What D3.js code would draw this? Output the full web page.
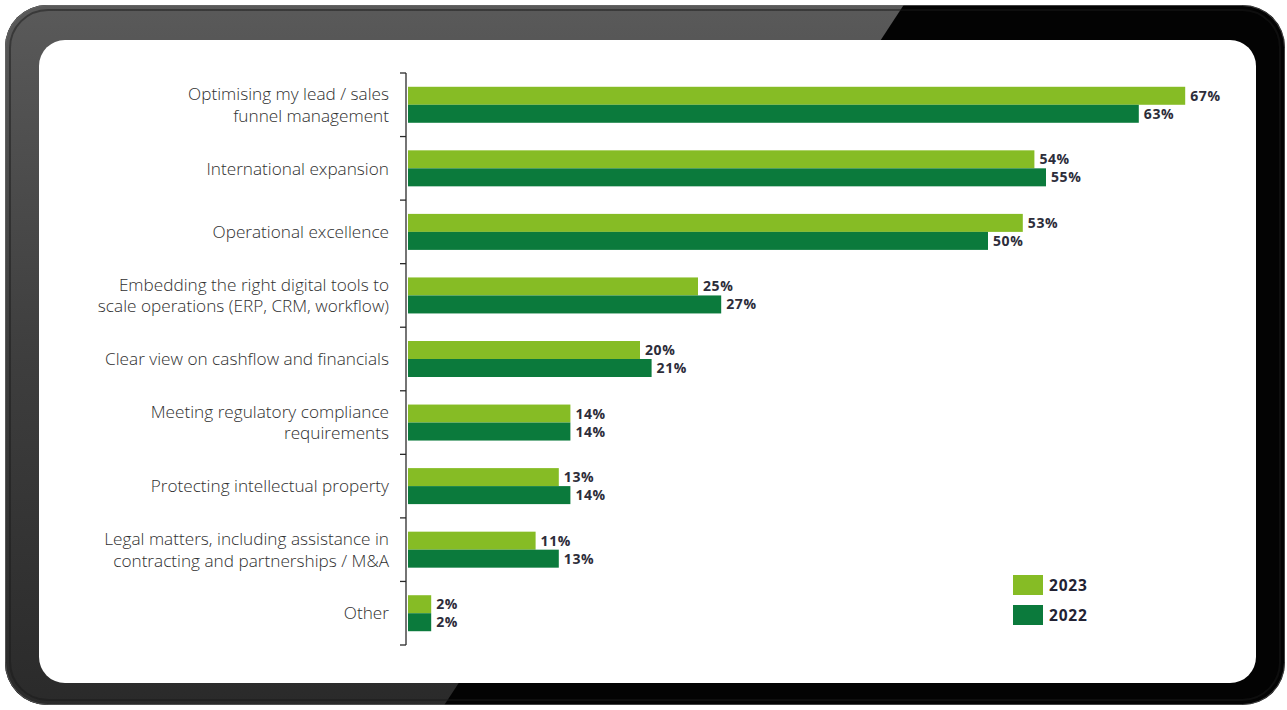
<!DOCTYPE html>
<html>
<head>
<meta charset="utf-8">
<script src="https://cdn.jsdelivr.net/npm/d3@7"></script>
<style>
  html, body { margin: 0; padding: 0; background: #ffffff; }
  svg { display: block; }
</style>
</head>
<body>
<svg id="chart" width="1287" height="710"></svg>
<script>
// Categories (label lines) and survey shares per year
const categories = [
  ["Optimising my lead / sales", "funnel management"],
  ["International expansion"],
  ["Operational excellence"],
  ["Embedding the right digital tools to", "scale operations (ERP, CRM, workflow)"],
  ["Clear view on cashflow and financials"],
  ["Meeting regulatory compliance", "requirements"],
  ["Protecting intellectual property"],
  ["Legal matters, including assistance in", "contracting and partnerships / M&A"],
  ["Other"]
];
const values2023 = [67, 54, 53, 25, 20, 14, 13, 11, 2];
const values2022 = [63, 55, 50, 27, 21, 14, 14, 13, 2];
const seriesNames = ["2023", "2022"];
const seriesColors = ["#86bc25", "#0b7a3c"];

const svg = d3.select("#chart");
const W = 1287, H = 710;

// ---- Device frame ----
const defs = svg.append("defs");
const grey = defs.append("linearGradient").attr("id", "greyPart")
  .attr("x1", 0).attr("y1", 0).attr("x2", 0).attr("y2", 1);
grey.append("stop").attr("offset", "0%").attr("stop-color", "#5a5a5a");
grey.append("stop").attr("offset", "50%").attr("stop-color", "#3e3e3e");
grey.append("stop").attr("offset", "100%").attr("stop-color", "#2a2a2a");
defs.append("clipPath").attr("id", "frameClip")
  .append("rect").attr("x", 5).attr("y", 5).attr("width", 1280).attr("height", 700).attr("rx", 42);

const frame = svg.append("g").attr("clip-path", "url(#frameClip)");
frame.append("rect").attr("x", 0).attr("y", 0).attr("width", W).attr("height", H).attr("fill", "#030303");
frame.append("path")
  .attr("d", "M0,0 L907,0 L441,710 L0,710 Z")
  .attr("fill", "url(#greyPart)");
// rim highlight on the outer edge
svg.append("rect").attr("x", 5.5).attr("y", 5.5).attr("width", 1279).attr("height", 699).attr("rx", 42)
  .attr("fill", "none").attr("stroke", "#6a6a6a").attr("stroke-width", 1).attr("opacity", 0.6);
svg.append("rect").attr("x", 10).attr("y", 10).attr("width", 1270).attr("height", 690).attr("rx", 38)
  .attr("fill", "none").attr("stroke", "#1a1a1a").attr("stroke-width", 2).attr("opacity", 0.5);

// Screen
svg.append("rect").attr("x", 39).attr("y", 40).attr("width", 1217).attr("height", 643).attr("rx", 26)
  .attr("fill", "#ffffff");

// ---- Chart ----
const x0 = 408;
const x = d3.scaleLinear().domain([0, 100]).range([x0, x0 + 1160]);
const y = d3.scaleBand().domain(d3.range(categories.length)).range([73, 645]).paddingInner(0).paddingOuter(0);
const barH = 18;

const rows = categories.map((c, i) => ({ i, label: c, v: [values2023[i], values2022[i]] }));

const g = svg.append("g");

// bars with value labels
rows.forEach(r => {
  const cy = y(r.i) + y.bandwidth() / 2;
  r.v.forEach((v, k) => {
    const top = cy - barH + k * barH;
    g.append("rect")
      .attr("x", x(0)).attr("y", top)
      .attr("width", x(v) - x(0)).attr("height", barH)
      .attr("fill", seriesColors[k]);
    g.append("text")
      .attr("x", x(v) + 5).attr("y", top + barH / 2)
      .attr("dy", "0.36em")
      .attr("font-family", "'Open Sans', sans-serif")
      .attr("font-weight", 700)
      .attr("font-size", 14)
      .attr("letter-spacing", 0.6)
      .attr("fill", "#2d2d3a")
      .text(v + "%");
  });
});

// axis with ticks at band boundaries
const axisX = 406;
const bounds = d3.range(categories.length + 1).map(i => i === categories.length ? y.range()[1] : y(i));
g.append("line").attr("x1", axisX).attr("x2", axisX)
  .attr("y1", bounds[0]).attr("y2", bounds[bounds.length - 1])
  .attr("stroke", "#2a2a2a").attr("stroke-width", 1.3);
bounds.forEach(b => {
  g.append("line").attr("x1", axisX - 6).attr("x2", axisX)
    .attr("y1", b).attr("y2", b)
    .attr("stroke", "#2a2a2a").attr("stroke-width", 1.3);
});

// category labels
rows.forEach(r => {
  const cy = y(r.i) + y.bandwidth() / 2;
  const n = r.label.length;
  const lh = 21.5;
  const t = g.append("text")
    .attr("text-anchor", "end")
    .attr("font-family", "'Open Sans', sans-serif")
    .attr("font-weight", 300)
    .attr("font-size", 17.2)
    .attr("fill", "#2f2f2f");
  r.label.forEach((line, j) => {
    t.append("tspan")
      .attr("x", 389)
      .attr("y", cy + (j - (n - 1) / 2) * lh)
      .attr("dy", "0.36em")
      .text(line);
  });
});

// legend
const legend = g.append("g");
seriesNames.forEach((s, k) => {
  const ly = 575 + k * 30;
  legend.append("rect").attr("x", 1013).attr("y", ly).attr("width", 30).attr("height", 20)
    .attr("fill", seriesColors[k]);
  legend.append("text").attr("x", 1049).attr("y", ly + 10).attr("dy", "0.36em")
    .attr("font-family", "'Open Sans', sans-serif")
    .attr("font-weight", 700).attr("font-size", 15.5)
    .attr("letter-spacing", 0.8)
    .attr("fill", "#222233")
    .text(s);
});
</script>
</body>
</html>
